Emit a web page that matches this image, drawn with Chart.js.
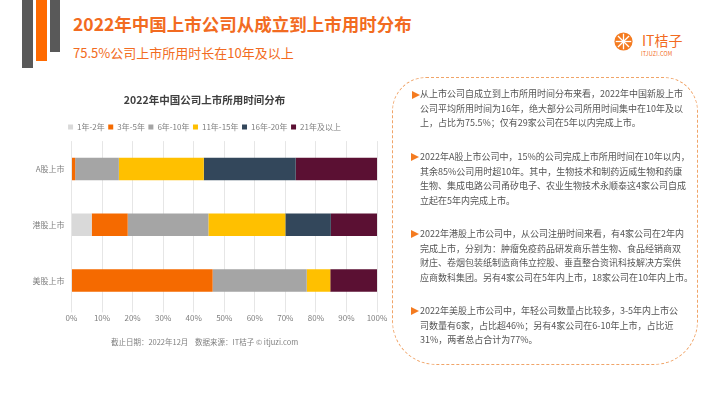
<!DOCTYPE html>
<html>
<head>
<meta charset="utf-8">
<script src="https://cdn.jsdelivr.net/npm/chart.js@4"></script>
<style>
  body { margin: 0; width: 710px; height: 399px; background: #fff; overflow: hidden;
         font-family: "Noto Sans CJK SC", "Noto Sans", sans-serif; position: relative; }
  .bar { position: absolute; top: 0; }
  #title { position: absolute; left: 73px; top: 11px; font-size: 17.5px; font-weight: bold; color: #f26b21; white-space: nowrap; line-height: 26px; }
  #subtitle { position: absolute; left: 73px; top: 43px; font-size: 13px; color: #f26b21; white-space: nowrap; line-height: 20px; }
  #logo { position: absolute; left: 614px; top: 32px; }
  #logoText { position: absolute; left: 642px; top: 31px; font-size: 14px; color: #f26b21; white-space: nowrap; line-height: 19px; }
  #logoSub { position: absolute; left: 641px; top: 50px; font-size: 5.5px; color: #f26b21; white-space: nowrap; letter-spacing: 0.2px; }
  #chartWrap { position: absolute; left: 0; top: 85px; width: 408px; height: 262px; }
  #box { position: absolute; left: 392px; top: 77px; width: 306px; height: 288px; border: 1px dashed #f0a468;
         border-radius: 34px 34px 44px 44px; box-sizing: border-box; }
  .para { position: absolute; left: 420px; font-size: 9px; color: #555; line-height: 14.5px; white-space: nowrap; }
  .arrow { position: absolute; width: 0; height: 0; border-top: 4px solid transparent; border-bottom: 4px solid transparent;
           border-left: 8px solid #f47b20; }
</style>
</head>
<body>
<div class="bar" style="left:22px;width:11px;height:68px;background:#595959"></div>
<div class="bar" style="left:36px;width:11px;height:61px;background:#ff6a00"></div>
<div class="bar" style="left:50px;width:10px;height:52px;background:#595959"></div>
<div id="title">2022年中国上市公司从成立到上市用时分布</div>
<div id="subtitle">75.5%公司上市所用时长在10年及以上</div>

<svg id="logo" width="19" height="19" viewBox="0 0 22 22">
  <circle cx="11" cy="11" r="10.5" fill="#f47b20"/>
  <g stroke="#fff" stroke-width="1.5">
    <line x1="11" y1="2" x2="11" y2="20"/>
    <line x1="2" y1="11" x2="20" y2="11"/>
    <line x1="4.6" y1="4.6" x2="17.4" y2="17.4"/>
    <line x1="17.4" y1="4.6" x2="4.6" y2="17.4"/>
  </g>
</svg>
<div id="logoText">IT桔子</div>
<div id="logoSub">ITJUZI.COM</div>

<div id="chartWrap"><canvas id="chart"></canvas></div>

<div id="box"></div>
<div class="arrow" style="left:412px;top:91px"></div>
<div class="para" style="top:87px">从上市公司自成立到上市所用时间分布来看，2022年中国新股上市<br>公司平均所用时间为16年，绝大部分公司所用时间集中在10年及以<br>上，占比为75.5%；仅有29家公司在5年以内完成上市。</div>
<div class="arrow" style="left:411px;top:153px"></div>
<div class="para" style="top:150px">2022年A股上市公司中，15%的公司完成上市所用时间在10年以内，<br>其余85%公司用时超10年。其中，生物技术和制药迈威生物和药康<br>生物、集成电路公司甬矽电子、农业生物技术永顺泰这4家公司自成<br>立起在5年内完成上市。</div>
<div class="arrow" style="left:411px;top:230px"></div>
<div class="para" style="top:227px">2022年港股上市公司中，从公司注册时间来看，有4家公司在2年内<br>完成上市，分别为：肿瘤免疫药品研发商乐普生物、食品经销商双<br>财庄、卷烟包装纸制造商伟立控股、垂直整合资讯科技解决方案供<br>应商数科集团。另有4家公司在5年内上市，18家公司在10年内上市。</div>
<div class="arrow" style="left:411px;top:307px"></div>
<div class="para" style="top:304px">2022年美股上市公司中，年轻公司数量占比较多，3-5年内上市公<br>司数量有6家，占比超46%；另有4家公司在6-10年上市，占比近<br>31%，两者总占合计为77%。</div>

<script>
// categories and series (percent of companies per listing-time bucket)
const categories = ['A股上市', '港股上市', '美股上市'];
const seriesNames = ['1年-2年', '3年-5年', '6年-10年', '11年-15年', '16年-20年', '21年及以上'];
const years1to2 = [0, 6.6, 0];
const years3to5 = [1.2, 11.8, 46.2];
const years6to10 = [14.3, 26.4, 30.8];
const years11to15 = [27.8, 25.2, 7.7];
const years16to20 = [30.1, 14.9, 0];
const years21plus = [26.6, 15.1, 15.3];
const xTicks = [0, 10, 20, 30, 40, 50, 60, 70, 80, 90, 100];

const colors = ['#d9d9d9', '#f56a00', '#a5a5a5', '#ffc000', '#33475b', '#5b1033'];
const allSeries = [years1to2, years3to5, years6to10, years11to15, years16to20, years21plus];

const datasets = allSeries.map((vals, i) => ({
  label: seriesNames[i],
  data: vals,
  backgroundColor: colors[i],
  borderWidth: 0,
  barPercentage: 0.4,
  categoryPercentage: 1
}));

const font = '"Noto Sans CJK SC", "Noto Sans", sans-serif';

new Chart(document.getElementById('chart'), {
  type: 'bar',
  data: { labels: categories, datasets: datasets },
  options: {
    indexAxis: 'y',
    responsive: true,
    maintainAspectRatio: false,
    animation: false,
    // left padding shifts the title/legend centre to match the picture
    layout: { padding: { left: 32, right: 31, top: 0, bottom: 0 } },
    plugins: {
      title: {
        display: true,
        text: '2022年中国公司上市所用时间分布',
        color: '#404040',
        font: { family: font, size: 10.5, weight: 'bold' },
        padding: { top: 9, bottom: 13 }
      },
      legend: {
        position: 'top',
        labels: {
          boxWidth: 5, boxHeight: 5, padding: 3.5,
          color: '#7f7f7f',
          font: { family: font, size: 8 }
        }
      },
      subtitle: {
        display: true,
        position: 'bottom',
        text: '截止日期：2022年12月    数据来源：IT桔子 © itjuzi.com',
        color: '#7f7f7f',
        font: { family: font, size: 7.5 },
        padding: { top: 14, bottom: 0 }
      },
      tooltip: { enabled: false }
    },
    scales: {
      x: {
        stacked: true,
        min: 0, max: 100,
        afterBuildTicks: axis => { axis.ticks = xTicks.map(v => ({ value: v })); },
        grid: { color: '#e6e6e6', tickLength: 4, drawTicks: true },
        border: { display: false },
        ticks: {
          color: '#7f7f7f', padding: 1,
          font: { family: font, size: 8 },
          callback: v => v + '%'
        }
      },
      y: {
        stacked: true,
        grid: { display: false, drawTicks: false },
        border: { display: false },
        afterFit: axis => { axis.width = 39.5; },
        ticks: { color: '#7f7f7f', padding: 7, font: { family: font, size: 8 } }
      }
    }
  }
});
</script>
</body>
</html>
